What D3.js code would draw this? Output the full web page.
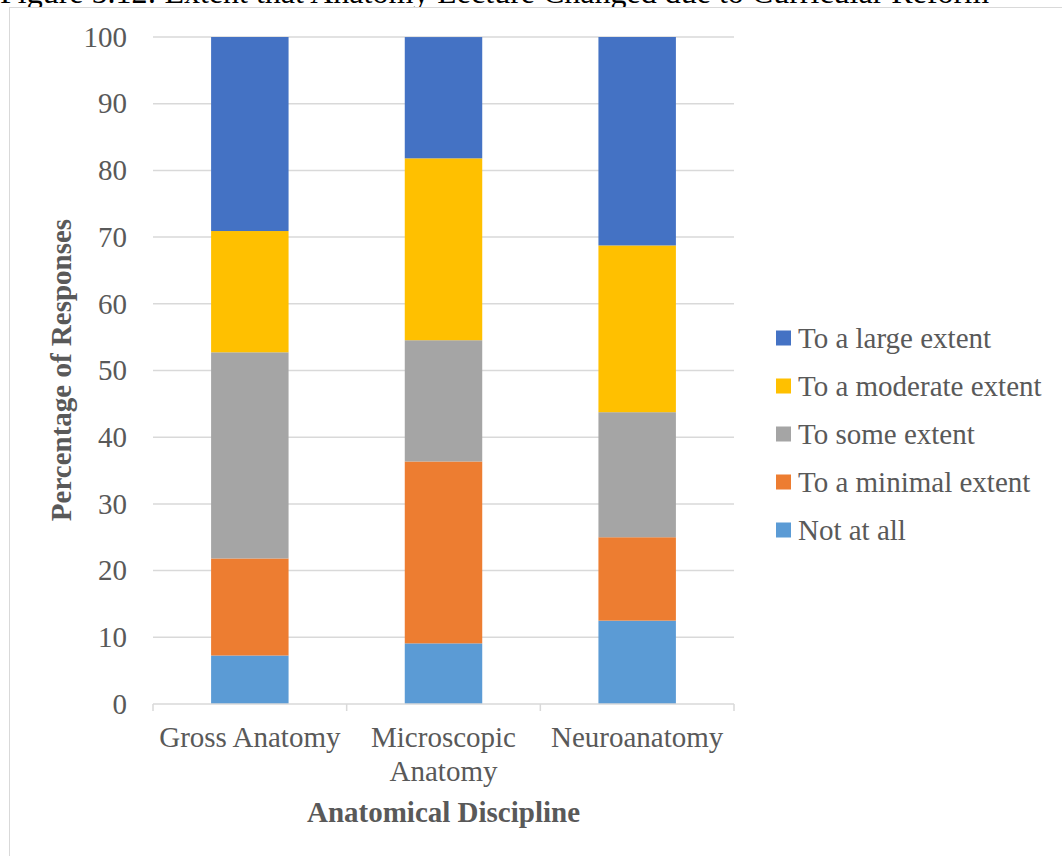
<!DOCTYPE html>
<html>
<head>
<meta charset="utf-8">
<script src="https://cdn.jsdelivr.net/npm/d3@7"></script>
<style>
  html, body { margin: 0; padding: 0; background: #fff; }
  svg { display: block; font-family: "Liberation Serif", "Times New Roman", serif; }
</style>
</head>
<body>
<svg id="chart" width="1062" height="856"></svg>
<script>
// Disciplines on the x axis (multi-line labels split on "\n")
const categories = ["Gross Anatomy", "Microscopic\nAnatomy", "Neuroanatomy"];

// Response levels, bottom of the stack first
const seriesNames = ["Not at all", "To a minimal extent", "To some extent", "To a moderate extent", "To a large extent"];
const seriesColors = ["#5B9BD5", "#ED7D31", "#A5A5A5", "#FFC000", "#4472C4"];

// Percentage of responses per discipline, one array per level
const notAtAll       = [7.27, 9.09, 12.5];
const minimalExtent  = [14.55, 27.27, 12.5];
const someExtent     = [30.91, 18.18, 18.75];
const moderateExtent = [18.18, 27.27, 25.0];
const largeExtent    = [29.09, 18.18, 31.25];

const yTicks = [0, 10, 20, 30, 40, 50, 60, 70, 80, 90, 100];

const seriesValues = [notAtAll, minimalExtent, someExtent, moderateExtent, largeExtent];
const rows = categories.map((c, i) => {
  const r = { cat: c };
  seriesNames.forEach((s, k) => { r[s] = seriesValues[k][i]; });
  return r;
});

const FONT = 29;
const TEXT = "#595959";

const svg = d3.select("#chart");

// Caption above the chart frame
svg.append("text")
  .attr("x", 0).attr("y", 3)
  .attr("font-size", 32)
  .attr("fill", "#000")
  .text("Figure 5.12: Extent that Anatomy Lecture Changed due to Curricular Reform");

// Chart frame
svg.append("rect")
  .attr("x", 9.5).attr("y", 7.5)
  .attr("width", 1100).attr("height", 900)
  .attr("fill", "#fff")
  .attr("stroke", "#d9d9d9").attr("stroke-width", 1);

const plot = { left: 153, right: 734, top: 37, bottom: 704 };

const x = d3.scaleBand()
  .domain(categories)
  .range([plot.left, plot.right])
  .paddingInner(0.6).paddingOuter(0.3);

const y = d3.scaleLinear().domain([0, 100]).range([plot.bottom, plot.top]);

// Horizontal gridlines
svg.append("g")
  .selectAll("line")
  .data(yTicks.filter(t => t > 0))
  .join("line")
  .attr("x1", plot.left).attr("x2", plot.right)
  .attr("y1", d => y(d)).attr("y2", d => y(d))
  .attr("stroke", "#d9d9d9").attr("stroke-width", 1.5);

// Y tick labels
const yAxis = d3.axisLeft(y).tickValues(yTicks).tickSize(0).tickPadding(26);
const gy = svg.append("g").attr("transform", `translate(${plot.left},0)`).call(yAxis);
gy.select(".domain").remove();
gy.selectAll("text")
  .attr("font-family", "Liberation Serif, Times New Roman, serif")
  .attr("font-size", FONT).attr("fill", TEXT);

// Stacked bars
const stack = d3.stack().keys(seriesNames)(rows);
svg.append("g")
  .selectAll("g")
  .data(stack)
  .join("g")
  .attr("fill", (d, i) => seriesColors[i])
  .selectAll("rect")
  .data(d => d)
  .join("rect")
  .attr("x", d => x(d.data.cat))
  .attr("width", x.bandwidth())
  .attr("y", d => y(d[1]))
  .attr("height", d => y(d[0]) - y(d[1]));

// Category axis line with boundary ticks
const step = (plot.right - plot.left) / categories.length;
const axisG = svg.append("g");
axisG.append("line")
  .attr("x1", plot.left).attr("x2", plot.right)
  .attr("y1", plot.bottom).attr("y2", plot.bottom)
  .attr("stroke", "#d9d9d9").attr("stroke-width", 1.5);
axisG.selectAll("line.tick")
  .data(d3.range(categories.length + 1))
  .join("line")
  .attr("class", "tick")
  .attr("x1", i => plot.left + i * step).attr("x2", i => plot.left + i * step)
  .attr("y1", plot.bottom).attr("y2", plot.bottom + 7)
  .attr("stroke", "#d9d9d9").attr("stroke-width", 1.5);

// Category labels
const catLabels = svg.append("g")
  .selectAll("text")
  .data(categories)
  .join("text")
  .attr("x", d => x(d) + x.bandwidth() / 2)
  .attr("y", 747)
  .attr("text-anchor", "middle")
  .attr("font-size", FONT).attr("fill", TEXT);
catLabels.each(function(d) {
  const t = d3.select(this);
  d.split("\n").forEach((line, i) => {
    t.append("tspan")
      .attr("x", x(d) + x.bandwidth() / 2)
      .attr("dy", i === 0 ? 0 : 34)
      .text(line);
  });
});

// Axis titles
svg.append("text")
  .attr("x", 443.5).attr("y", 822)
  .attr("text-anchor", "middle")
  .attr("font-size", FONT).attr("font-weight", "bold").attr("fill", TEXT)
  .text("Anatomical Discipline");

svg.append("text")
  .attr("transform", `translate(71,370) rotate(-90)`)
  .attr("text-anchor", "middle")
  .attr("font-size", FONT).attr("font-weight", "bold").attr("fill", TEXT)
  .text("Percentage of Responses");

// Legend, largest extent at the top
const legendItems = seriesNames.map((s, i) => ({ name: s, color: seriesColors[i] })).reverse();
const legend = svg.append("g")
  .selectAll("g")
  .data(legendItems)
  .join("g")
  .attr("transform", (d, i) => `translate(776,${338 + i * 48})`);
legend.append("rect")
  .attr("x", 0).attr("y", -7.5)
  .attr("width", 15).attr("height", 15)
  .attr("fill", d => d.color);
legend.append("text")
  .attr("x", 22).attr("y", 10)
  .attr("font-size", FONT).attr("fill", TEXT)
  .text(d => d.name);
</script>
</body>
</html>
